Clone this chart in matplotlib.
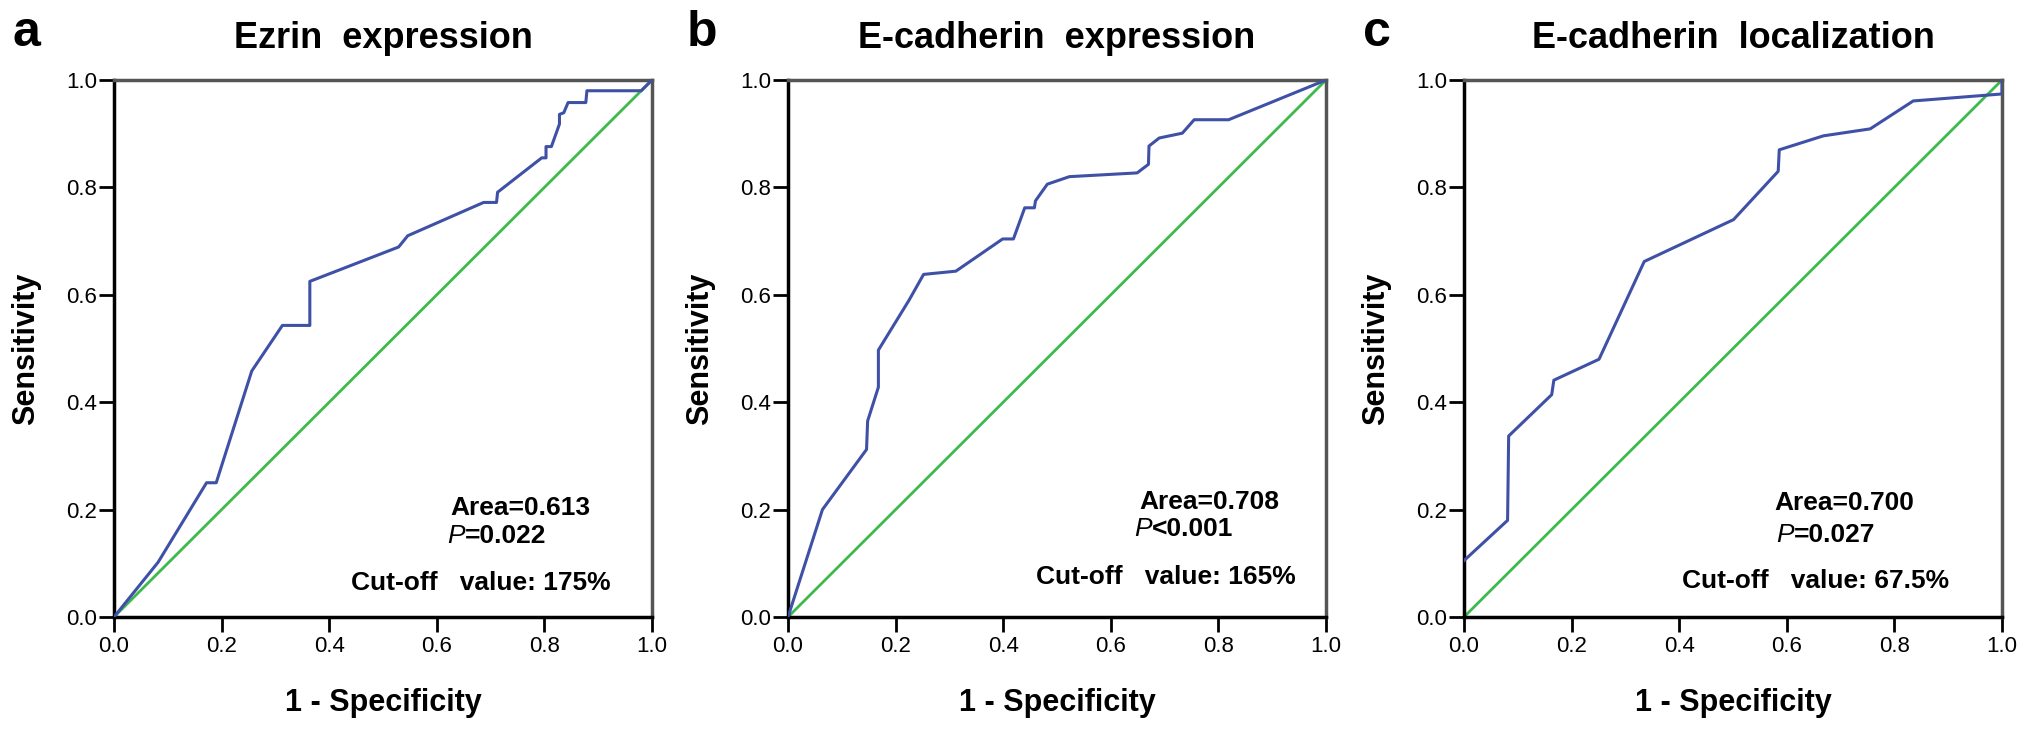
import matplotlib
matplotlib.use("Agg")
import matplotlib.pyplot as plt

plt.rcParams['font.family'] = ['Liberation Sans', 'DejaVu Sans']

# ROC curve points (1 - specificity, sensitivity)
ezrinFpr = [0.0, 0.082, 0.172, 0.19, 0.256, 0.313, 0.364, 0.364, 0.529, 0.546,
            0.687, 0.711, 0.713, 0.795, 0.803, 0.803, 0.813, 0.828, 0.828, 0.836,
            0.844, 0.877, 0.879, 0.98, 1.0]
ezrinTpr = [0.0, 0.102, 0.25, 0.25, 0.458, 0.543, 0.543, 0.625, 0.689, 0.71,
            0.772, 0.772, 0.791, 0.855, 0.855, 0.876, 0.876, 0.918, 0.936, 0.939,
            0.958, 0.958, 0.98, 0.98, 1.0]

ecadExpFpr = [0.0, 0.064, 0.146, 0.148, 0.168, 0.168, 0.225, 0.252, 0.312, 0.399,
              0.419, 0.44, 0.458, 0.46, 0.482, 0.523, 0.649, 0.670, 0.671, 0.69,
              0.733, 0.755, 0.819, 1.0]
ecadExpTpr = [0.0, 0.2, 0.312, 0.365, 0.428, 0.497, 0.59, 0.638, 0.644, 0.704,
              0.704, 0.762, 0.762, 0.775, 0.806, 0.82, 0.827, 0.843, 0.877, 0.892,
              0.901, 0.926, 0.926, 1.0]

ecadLocFpr = [0.0, 0.081, 0.083, 0.163, 0.167, 0.251, 0.335, 0.501, 0.584, 0.586,
              0.668, 0.755, 0.835, 1.0, 1.0]
ecadLocTpr = [0.105, 0.18, 0.337, 0.414, 0.441, 0.48, 0.662, 0.74, 0.83, 0.87,
              0.896, 0.909, 0.961, 0.974, 1.0]

panelLetters = ['a', 'b', 'c']
panelTitles = ['Ezrin  expression', 'E-cadherin  expression', 'E-cadherin  localization']
areaTexts = ['Area=0.613', 'Area=0.708', 'Area=0.700']
pSigns = ['=0.022', '<0.001', '=0.027']
cutoffTexts = ['Cut-off   value: 175%', 'Cut-off   value: 165%', 'Cut-off   value: 67.5%']

tickValues = [0.0, 0.2, 0.4, 0.6, 0.8, 1.0]
tickLabels = ['0.0', '0.2', '0.4', '0.6', '0.8', '1.0']

# where the annotation lines start (data coords) for each panel
areaPos = [(0.626, 0.19), (0.653, 0.202), (0.576, 0.20)]
pPos = [(0.62, 0.128), (0.644, 0.142), (0.580, 0.131)]
cutPos = [(0.44, 0.05), (0.461, 0.061), (0.405, 0.054)]

curves = [(ezrinFpr, ezrinTpr), (ecadExpFpr, ecadExpTpr), (ecadLocFpr, ecadLocTpr)]
axLefts = [114, 788, 1464]

W, H = 2031, 732
fig = plt.figure(figsize=(W / 100, H / 100), dpi=100)

blue = '#3f51a6'
green = '#3dba4c'

for i in range(3):
    left = axLefts[i]
    ax = fig.add_axes([left / W, (H - 617) / H, 538 / W, 537 / H])
    fpr, tpr = curves[i]
    ax.plot([0, 1], [0, 1], color=green, lw=2.0, zorder=2)
    ax.plot(fpr, tpr, color=blue, lw=2.2, zorder=3)
    ax.set_xlim(0, 1)
    ax.set_ylim(0, 1)
    ax.set_xticks(tickValues)
    ax.set_xticklabels(tickLabels)
    ax.set_yticks(tickValues)
    ax.set_yticklabels(tickLabels)
    ax.tick_params(direction='out', length=11, width=2, labelsize=16, pad=3, colors='black')
    ax.tick_params(axis='y', pad=1)
    for side in ['left', 'bottom']:
        ax.spines[side].set_color('black')
        ax.spines[side].set_linewidth(2.5)
    for side in ['top', 'right']:
        ax.spines[side].set_color('#555555')
        ax.spines[side].set_linewidth(2.5)

    ax.set_xlabel('1 - Specificity', fontsize=22, fontweight='bold', labelpad=22)
    ax.set_ylabel('Sensitivity', fontsize=22, fontweight='bold', labelpad=18)

    # panel title and letter
    fig.text((left + 269) / W, 1 - 48 / H, panelTitles[i], fontsize=26,
             fontweight='bold', ha='center', va='baseline')
    fig.text((left - 101) / W, 1 - 46 / H, panelLetters[i], fontsize=36,
             fontweight='bold', ha='left', va='baseline')

    # annotation
    ax.text(areaPos[i][0], areaPos[i][1], areaTexts[i], fontsize=19,
            fontweight='bold', ha='left', va='baseline')
    pTxt = ax.text(pPos[i][0], pPos[i][1], 'P', fontsize=19, fontstyle='italic',
                   ha='left', va='bottom')
    ax.annotate(pSigns[i], xy=(1, 0), xycoords=pTxt, fontsize=19,
                fontweight='bold', ha='left', va='bottom')
    ax.text(cutPos[i][0], cutPos[i][1], cutoffTexts[i], fontsize=19,
            fontweight='bold', ha='left', va='baseline')

fig.savefig('out.png', dpi=100, facecolor='white')
